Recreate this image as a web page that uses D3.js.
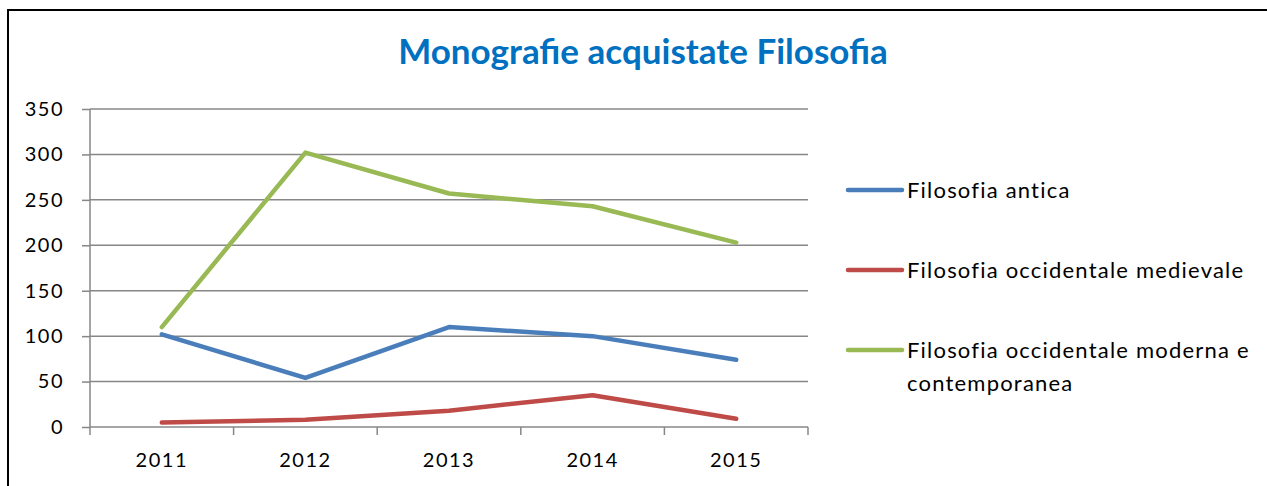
<!DOCTYPE html>
<html><head><meta charset="utf-8">
<script src="https://cdn.jsdelivr.net/npm/d3@7"></script>
<style>body{margin:0;background:#fff;} text{font-family:Lato,"Open Sans",sans-serif;}</style>
</head><body>
<svg id="c" width="1267" height="486"></svg>
<script>
const years = ["2011","2012","2013","2014","2015"];
const seriesNames = ["Filosofia antica","Filosofia occidentale medievale","Filosofia occidentale moderna e contemporanea"];
const antica = [102, 54, 110, 100, 74];
const medievale = [5, 8, 18, 35, 9];
const moderna = [110, 302, 257, 243, 203];
const yTicks = [0,50,100,150,200,250,300,350];
const colors = ["#4A7EBB","#BE4B48","#98B954"];
const title = "Monografie acquistate Filosofia";

const svg = d3.select("#c");
svg.append("rect").attr("x",8).attr("y",10).attr("width",1300).attr("height",600)
  .attr("fill","none").attr("stroke","#000").attr("stroke-width",2);

const L=90,R=808,T=109,B=427;
const x = d3.scaleBand().domain(years).range([L,R]);
const y = d3.scaleLinear().domain([0,350]).range([B,T]);

svg.append("text").attr("x",643).attr("y",64).attr("text-anchor","middle")
  .attr("fill","#0070C0").attr("font-weight","bold").attr("font-size",35).text(title);

// gridlines
svg.append("g").selectAll("line").data(yTicks.slice(1)).join("line")
  .attr("x1",L).attr("x2",R).attr("y1",d=>y(d)).attr("y2",d=>y(d))
  .attr("stroke","#878787").attr("stroke-width",1.5);

const yAxis = svg.append("g").attr("transform",`translate(${L},0)`)
  .call(d3.axisLeft(y).tickValues(yTicks).tickSize(8).tickPadding(18));
yAxis.select(".domain").attr("stroke","#878787").attr("stroke-width",1.5).attr("d",`M0,${T}V${B}`);
yAxis.selectAll(".tick line").attr("stroke","#878787").attr("stroke-width",1.5);
yAxis.selectAll("text").attr("font-size",20).attr("letter-spacing",1.5).attr("fill","#000").attr("dy","0.32em");

const xAxis = svg.append("g").attr("transform",`translate(0,${B})`)
  .call(d3.axisBottom(x).tickSize(0).tickPadding(26));
xAxis.select(".domain").attr("stroke","#878787").attr("stroke-width",1.5).attr("d",`M${L},0H${R}`);
xAxis.selectAll("text").attr("font-size",20).attr("letter-spacing",1.5).attr("fill","#000");
const bounds = years.map(d=>x(d)).concat([R]);
xAxis.selectAll(".bt").data(bounds).join("line").attr("class","bt")
  .attr("x1",d=>d).attr("x2",d=>d).attr("y1",0).attr("y2",8)
  .attr("stroke","#878787").attr("stroke-width",1.5);

const data=[antica,medievale,moderna];
const line = d3.line().x((d,i)=>x(years[i])+x.bandwidth()/2).y(d=>y(d));
svg.append("g").selectAll("path").data(data).join("path")
  .attr("d",line).attr("fill","none").attr("stroke",(d,i)=>colors[i])
  .attr("stroke-width",4.5).attr("stroke-linecap","round").attr("stroke-linejoin","round");

// legend
const legY=[190,270,350];
const lg = svg.append("g");
seriesNames.forEach((n,i)=>{
  lg.append("line").attr("x1",848).attr("x2",902).attr("y1",legY[i]).attr("y2",legY[i])
    .attr("stroke",colors[i]).attr("stroke-width",4.5).attr("stroke-linecap","round");
  const t = lg.append("text").attr("x",907).attr("y",legY[i]+8)
    .attr("font-size",22).attr("letter-spacing",1.2).attr("fill","#000");
  if(i===2){
    t.append("tspan").attr("x",907).text("Filosofia occidentale moderna e");
    t.append("tspan").attr("x",907).attr("dy",33).text("contemporanea");
  } else t.text(n);
});
</script>
</body></html>
